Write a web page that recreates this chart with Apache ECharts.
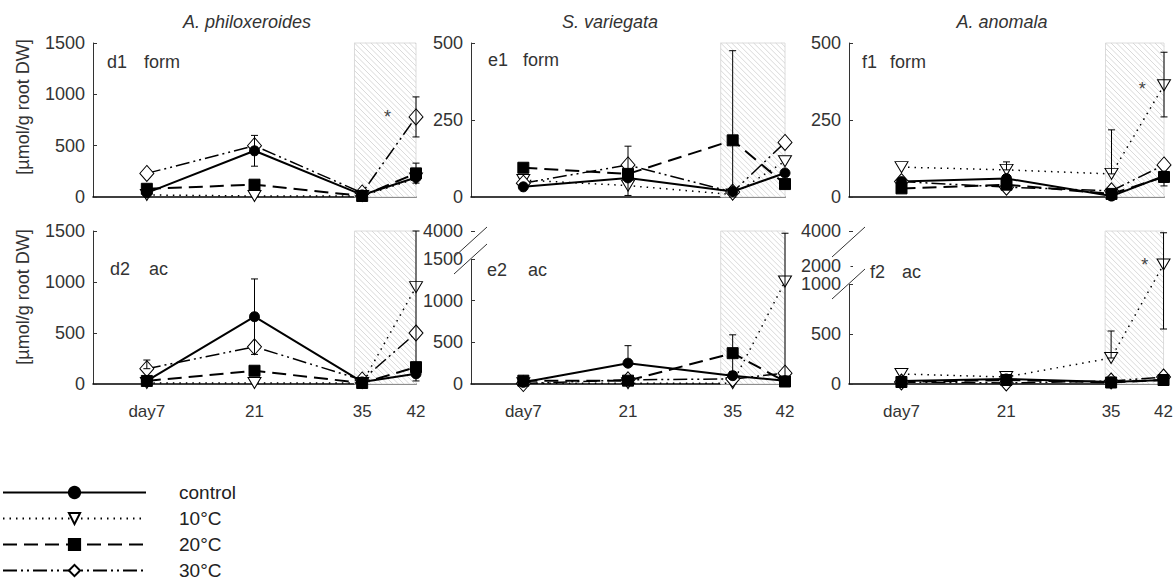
<!DOCTYPE html>
<html><head><meta charset="utf-8">
<script src="https://cdn.jsdelivr.net/npm/echarts@6/dist/echarts.min.js"></script>
<style>html,body{margin:0;padding:0;background:#fff}#c{width:1176px;height:586px}</style>
</head><body><div id="c"></div>
<script>
// ---------- data ----------
const days = [7, 21, 35, 42];
const xTickValues = [7, 21, 35, 42];
const seriesNames = ['control', '10°C', '20°C', '30°C'];
const speciesTitles = ['A. philoxeroides', 'S. variegata', 'A. anomala'];
const yTicksTop = { d: [0, 500, 1000, 1500], e: [0, 250, 500], f: [0, 250, 500] };
const yTicksE2 = [0, 500, 1000, 1500, 4000];
const yTicksF2 = [0, 500, 1000, 2000, 4000];
const breakE2 = [1500, 4000];
const breakF2 = [1000, 4000];

// d1 A. philoxeroides, form
const d1Control = [40, 450, 20, 190];
const d1T10 = [20, 10, 10, 180];
const d1T20 = [80, 120, 10, 230];
const d1T30 = [230, 500, 40, 780];
const d1Err = [[21, 300, 600], [42, 585, 975], [42, 135, 330]];
const d1Star = [[38.3, 780]];
const d1Hatch = [[34, 42]];
// d2 A. philoxeroides, ac
const d2Control = [30, 660, 20, 100];
const d2T10 = [10, 10, 10, 950];
const d2T20 = [30, 130, 10, 165];
const d2T30 = [150, 365, 40, 500];
const d2Err = [[7, 150, 235], [21, 290, 1030], [42, 30, 1500]];
const d2Star = [];
const d2Hatch = [[34, 42]];
// e1 S. variegata, form
const e1Control = [33, 62, 18, 78];
const e1T10 = [55, 37, 8, 116];
const e1T20 = [95, 75, 184, 42];
const e1T30 = [45, 104, 16, 177];
const e1Err = [[21, 5, 165], [35, 0, 475]];
const e1Star = [];
const e1Hatch = [[33.4, 42]];
// e2 S. variegata, ac
const e2Control = [20, 250, 100, 40];
const e2T10 = [10, 10, 10, 1230];
const e2T20 = [40, 40, 370, 30];
const e2T30 = [5, 50, 60, 130];
const e2Err = [[21, 250, 460], [35, 150, 590], [42, 0, 3800]];
const e2Star = [];
const e2Hatch = [[33.4, 42]];
// f1 A. anomala, form
const f1Control = [50, 60, 3, 68];
const f1T10 = [97, 88, 75, 363];
const f1T20 = [28, 40, 10, 65];
const f1T30 = [50, 32, 20, 104];
const f1Err = [[21, 88, 114], [35, 75, 218], [42, 260, 470], [42, 36, 65]];
const f1Star = [[39.1, 350]];
const f1Hatch = [[34.2, 42]];
// f2 A. anomala, ac
const f2Control = [30, 50, 20, 40];
const f2T10 = [100, 70, 260, 2100];
const f2T20 = [20, 40, 15, 40];
const f2T30 = [20, 10, 30, 70];
const f2Err = [[35, 260, 530], [42, 550, 3900]];
const f2Star = [[39.5, 2100]];
const f2Hatch = [[34.2, 42]];

// ---------- layout / style ----------
const FONT = '"Liberation Sans", Arial, sans-serif';
const TXT = '#333';
const panels = [
  { key: 'd1', tag: 'form', left: 93, top: 43, width: 323, height: 154, ticks: yTicksTop.d, max: 1500, vals: [d1Control, d1T10, d1T20, d1T30], err: d1Err, star: d1Star, hatch: d1Hatch, bottom: false, lab: [107, 144, 62] },
  { key: 'e1', tag: 'form', left: 471, top: 43, width: 314, height: 154, ticks: yTicksTop.e, max: 500, vals: [e1Control, e1T10, e1T20, e1T30], err: e1Err, star: e1Star, hatch: e1Hatch, bottom: false, lab: [488, 523, 60] },
  { key: 'f1', tag: 'form', left: 849, top: 43, width: 315, height: 154, ticks: yTicksTop.f, max: 500, vals: [f1Control, f1T10, f1T20, f1T30], err: f1Err, star: f1Star, hatch: f1Hatch, bottom: false, lab: [862, 890, 62] },
  { key: 'd2', tag: 'ac', left: 93, top: 231, width: 323, height: 153, ticks: yTicksTop.d, max: 1500, vals: [d2Control, d2T10, d2T20, d2T30], err: d2Err, star: d2Star, hatch: d2Hatch, bottom: true, lab: [110, 149, 269] },
  { key: 'e2', tag: 'ac', left: 471, top: 231, width: 314, height: 153, ticks: yTicksE2, max: 4000, brk: breakE2, gap: 336, vals: [e2Control, e2T10, e2T20, e2T30], err: e2Err, star: e2Star, hatch: e2Hatch, bottom: true, lab: [487, 528, 270] },
  { key: 'f2', tag: 'ac', left: 849, top: 231, width: 315, height: 153, ticks: yTicksF2, max: 4000, brk: breakF2, gap: 530, vals: [f2Control, f2T10, f2T20, f2T30], err: f2Err, star: f2Star, hatch: f2Hatch, bottom: true, lab: [870, 902, 272] }
];

const lineStyles = [
  { symbol: 'circle', symbolSize: 10, itemStyle: { color: '#000', borderColor: '#000', borderWidth: 1 }, lineStyle: { color: '#000', width: 2, type: 'solid' } },
  { symbol: 'triangle', symbolRotate: 180, symbolSize: [13, 11], itemStyle: { color: '#fff', borderColor: '#000', borderWidth: 1 }, lineStyle: { color: '#000', width: 1.5, type: [1.5, 5] } },
  { symbol: 'rect', symbolSize: 11, itemStyle: { color: '#000', borderColor: '#000', borderWidth: 1 }, lineStyle: { color: '#000', width: 2, type: [14, 7] } },
  { symbol: 'diamond', symbolSize: [14, 16], itemStyle: { color: '#fff', borderColor: '#000', borderWidth: 1 }, lineStyle: { color: '#000', width: 1.5, type: [14, 4, 2, 4, 2, 4] } }
];
const drawOrder = [1, 3, 2, 0];

function hatchRender(params, api) {
  const cs = params.coordSys;
  const x1 = api.coord([api.value(0), 0])[0];
  const x2 = api.coord([api.value(1), 0])[0];
  const T = cs.y, H = cs.height;
  const children = [{ type: 'rect', shape: { x: x1, y: T, width: x2 - x1, height: H }, style: { fill: '#fff', stroke: '#dcdcdc', lineWidth: 1 } }];
  const step = 5.5;
  for (let a = x1 - H; a < x2; a += step) {
    const s0 = Math.max(0, x1 - a), s1 = Math.min(H, x2 - a);
    if (s1 > s0) children.push({ type: 'line', shape: { x1: a + s0, y1: T + s0, x2: a + s1, y2: T + s1 }, style: { stroke: '#cfcfcf', lineWidth: 0.8 } });
  }
  return { type: 'group', children };
}
function errRender(params, api) {
  const x = api.value(0);
  const pLo = api.coord([x, api.value(1)]);
  const pHi = api.coord([x, api.value(2)]);
  const w = 3.5, st = { stroke: '#000', lineWidth: 1 };
  return { type: 'group', children: [
    { type: 'line', shape: { x1: pLo[0], y1: pLo[1], x2: pHi[0], y2: pHi[1] }, style: st },
    { type: 'line', shape: { x1: pHi[0] - w, y1: pHi[1], x2: pHi[0] + w, y2: pHi[1] }, style: st },
    { type: 'line', shape: { x1: pLo[0] - w, y1: pLo[1], x2: pLo[0] + w, y2: pLo[1] }, style: st }
  ] };
}
function starRender(params, api) {
  const p = api.coord([api.value(0), api.value(1)]);
  return { type: 'text', x: p[0], y: p[1], style: { text: '*', font: '18px ' + FONT, fill: '#444', align: 'center', verticalAlign: 'middle' } };
}

const grid = [], xAxis = [], yAxis = [], series = [];
panels.forEach((p, i) => {
  grid.push({ left: p.left, top: p.top, width: p.width, height: p.height, containLabel: false });
  xAxis.push({
    type: 'value', gridIndex: i, min: 0, max: 42, interval: 7,
    axisLine: { show: true, lineStyle: { color: '#000', width: 1.5 } },
    axisTick: { show: false }, splitLine: { show: false },
    axisLabel: p.bottom ? {
      show: true, customValues: xTickValues, margin: 19, color: TXT, fontSize: 17, fontFamily: FONT,
      formatter: v => (v === 7 ? 'day7' : String(v))
    } : { show: false }
  });
  const ya = {
    type: 'value', gridIndex: i, min: 0, max: p.max,
    axisLine: { show: true, lineStyle: { color: '#333', width: 1 } },
    axisTick: { show: true, inside: true, length: 4, customValues: p.ticks, lineStyle: { color: '#333' } },
    splitLine: { show: false },
    axisLabel: { show: true, customValues: p.ticks, color: TXT, fontSize: 18, fontFamily: FONT, margin: 8, formatter: v => String(Math.round(v)) }
  };
  if (p.brk) {
    ya.breaks = [{ start: p.brk[0], end: p.brk[1], gap: p.gap }];
    ya.breakArea = { show: false };
  }
  yAxis.push(ya);
  series.push({ type: 'custom', name: 'hatch' + i, xAxisIndex: i, yAxisIndex: i, z: 1, silent: true, renderItem: hatchRender, data: p.hatch, encode: { x: [0, 1] } });
  drawOrder.forEach(k => {
    const s = lineStyles[k];
    series.push(Object.assign({
      type: 'line', name: seriesNames[k], xAxisIndex: i, yAxisIndex: i, z: 3,
      data: days.map((d, j) => [d, p.vals[k][j]]), animation: false, silent: true
    }, JSON.parse(JSON.stringify(s)), { showSymbol: true, showAllSymbol: true }));
  });
  series.push({ type: 'custom', name: 'err' + i, xAxisIndex: i, yAxisIndex: i, z: 4, silent: true, renderItem: errRender, data: p.err, encode: { x: 0, y: [1, 2] } });
  if (p.star.length) series.push({ type: 'custom', name: 'star' + i, xAxisIndex: i, yAxisIndex: i, z: 4, silent: true, renderItem: starRender, data: p.star, encode: { x: 0, y: 1 } });
});

const chart = echarts.init(document.getElementById('c'), null, { renderer: 'svg' });
chart.setOption({
  animation: false,
  backgroundColor: '#fff',
  textStyle: { fontFamily: FONT },
  grid, xAxis, yAxis, series,
  legend: {
    data: seriesNames, orient: 'vertical', left: 2, top: 483, bottom: 0, itemWidth: 143, itemHeight: 14, itemGap: 7,
    selectedMode: false, padding: 0,
    textStyle: { color: '#222', fontSize: 19, lineHeight: 19, fontFamily: FONT, padding: [0, 0, 0, 28] }
  }
});

// ---------- annotations ----------
const gfx = [];
const titleX = [247, 610, 1002];
speciesTitles.forEach((t, i) => gfx.push({ type: 'text', x: titleX[i], y: 22, style: { text: t, font: 'italic 18px ' + FONT, fill: TXT, align: 'center', verticalAlign: 'middle' } }));
[107, 297].forEach(cy => gfx.push({ type: 'text', x: 23, y: cy, rotation: Math.PI / 2, style: { text: '[µmol/g root DW]', font: '18px ' + FONT, fill: TXT, align: 'center', verticalAlign: 'middle' } }));
panels.forEach(p => {
  gfx.push({ type: 'text', x: p.lab[0], y: p.lab[2], style: { text: p.key, font: '18px ' + FONT, fill: TXT, align: 'left', verticalAlign: 'middle' } });
  gfx.push({ type: 'text', x: p.lab[1], y: p.lab[2], style: { text: p.tag, font: '18px ' + FONT, fill: TXT, align: 'left', verticalAlign: 'middle' } });
});
// axis break marks (slashes)
panels.forEach((p, i) => {
  if (!p.brk) return;
  const lo = chart.convertToPixel({ gridIndex: i }, [0, p.brk[0]]);
  const hi = chart.convertToPixel({ gridIndex: i }, [0, p.brk[1]]);
  const ax = lo[0];
  const yA = hi[1] + 11, yB = lo[1];
  gfx.push({ type: 'line', shape: { x1: ax, y1: yA, x2: ax, y2: yB - 1 }, style: { stroke: '#fff', lineWidth: 3 }, z: 50 });
  [yA, yB].forEach(yc => gfx.push({ type: 'line', shape: { x1: ax - 17, y1: yc + 15, x2: ax + 16, y2: yc - 15 }, style: { stroke: '#333', lineWidth: 1 }, z: 51 }));
});
chart.setOption({ graphic: gfx });
</script></body></html>
